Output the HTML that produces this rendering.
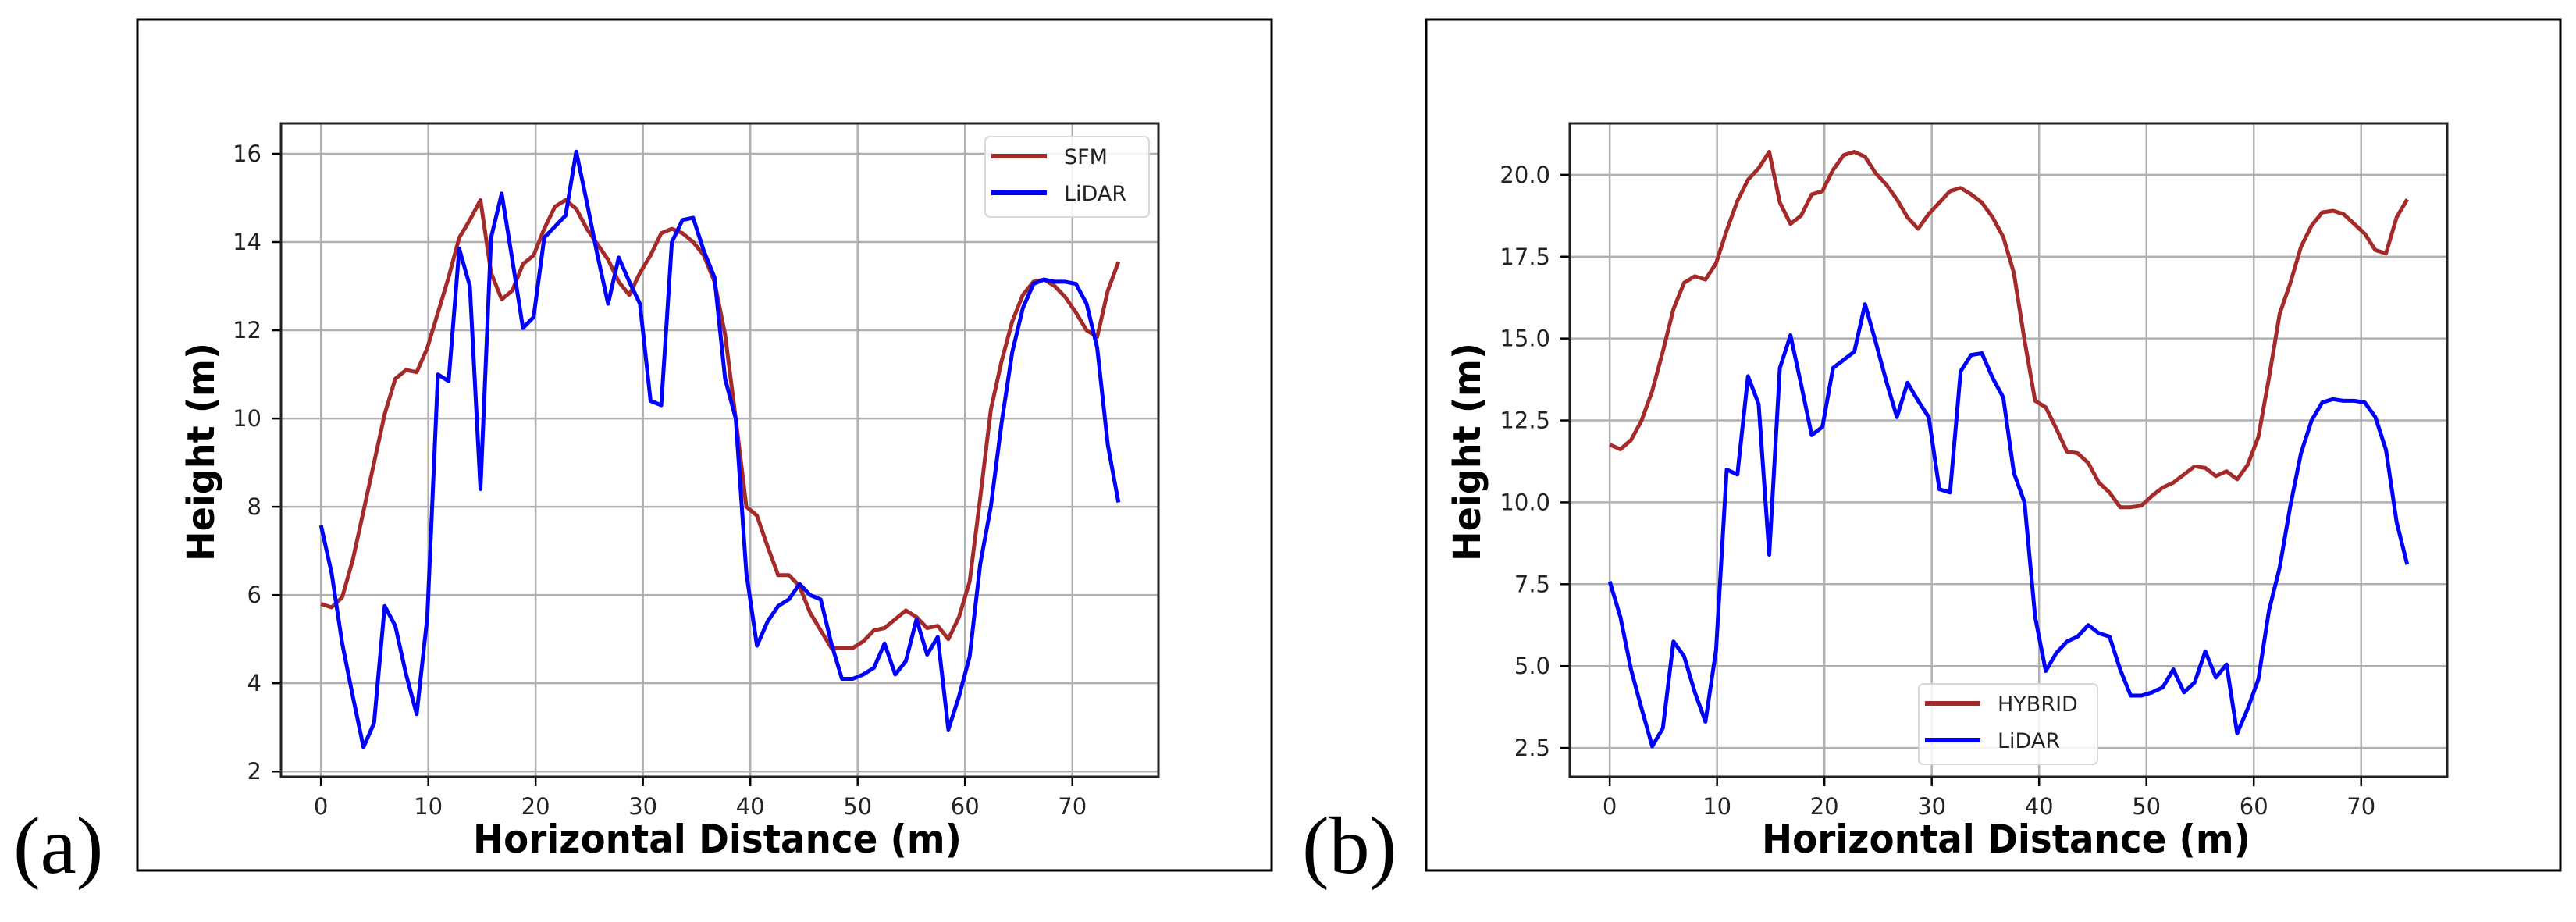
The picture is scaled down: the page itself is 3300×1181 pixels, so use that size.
<!DOCTYPE html>
<html><head><meta charset="utf-8"><style>
html,body{margin:0;padding:0;background:#fff;}
svg{display:block;}
text{font-family:"DejaVu Sans","Liberation Sans",sans-serif;}
</style></head><body>
<svg id="fig" width="3300" height="1181" viewBox="0 0 3300 1181" xmlns="http://www.w3.org/2000/svg">
<rect x="0" y="0" width="3300" height="1181" fill="#fff"/>
</svg>
<script>
const distance = [0,0.99,1.98,2.97,3.96,4.95,5.94,6.93,7.93,8.92,9.91,10.9,11.89,12.88,13.87,14.86,15.85,16.84,17.83,18.82,19.81,20.8,21.8,22.79,23.78,24.77,25.76,26.75,27.74,28.73,29.72,30.71,31.7,32.69,33.68,34.67,35.67,36.66,37.65,38.64,39.63,40.62,41.61,42.6,43.59,44.58,45.57,46.56,47.55,48.54,49.54,50.53,51.52,52.51,53.5,54.49,55.48,56.47,57.46,58.45,59.44,60.43,61.42,62.41,63.41,64.4,65.39,66.38,67.37,68.36,69.35,70.34,71.33,72.32,73.31,74.3];
const lidar = [7.58,6.5,4.9,3.7,2.55,3.1,5.75,5.3,4.2,3.3,5.5,11.0,10.85,13.85,13.0,8.4,14.1,15.1,13.6,12.05,12.3,14.1,14.35,14.6,16.05,14.9,13.7,12.6,13.65,13.1,12.6,10.4,10.3,14.0,14.5,14.55,13.8,13.2,10.9,10.0,6.5,4.85,5.4,5.75,5.9,6.25,6.0,5.9,4.9,4.1,4.1,4.2,4.35,4.9,4.2,4.5,5.45,4.65,5.05,2.95,3.7,4.6,6.7,8.0,9.9,11.5,12.5,13.05,13.15,13.1,13.1,13.05,12.6,11.6,9.4,8.1];
const sfm = [5.8,5.72,5.95,6.8,7.9,9.0,10.1,10.9,11.1,11.05,11.6,12.4,13.2,14.1,14.5,14.95,13.3,12.7,12.9,13.5,13.7,14.3,14.8,14.95,14.75,14.3,13.95,13.6,13.1,12.8,13.3,13.7,14.2,14.3,14.2,14.0,13.7,13.1,11.9,10.0,8.0,7.8,7.1,6.45,6.45,6.2,5.6,5.2,4.8,4.8,4.8,4.95,5.2,5.25,5.45,5.65,5.5,5.25,5.3,5.0,5.5,6.3,8.2,10.2,11.3,12.2,12.8,13.1,13.15,13.0,12.75,12.4,12.0,11.85,12.9,13.55];
const hybrid = [11.76,11.62,11.9,12.5,13.4,14.6,15.9,16.7,16.9,16.8,17.3,18.3,19.2,19.85,20.2,20.7,19.15,18.5,18.75,19.4,19.5,20.15,20.6,20.7,20.55,20.05,19.7,19.25,18.7,18.35,18.8,19.15,19.5,19.6,19.4,19.15,18.7,18.1,17.0,14.95,13.1,12.9,12.25,11.55,11.5,11.2,10.6,10.3,9.85,9.85,9.9,10.2,10.45,10.6,10.85,11.1,11.05,10.8,10.95,10.7,11.15,12.0,13.8,15.75,16.7,17.8,18.45,18.85,18.9,18.8,18.5,18.2,17.7,17.6,18.7,19.25];
const xTicks = [0,10,20,30,40,50,60,70];
const yTicksA = [2,4,6,8,10,12,14,16];
const yTicksB = [2.5,5.0,7.5,10.0,12.5,15.0,17.5,20.0];
const yLabelsB = ["2.5","5.0","7.5","10.0","12.5","15.0","17.5","20.0"];

const NS = "http://www.w3.org/2000/svg";
const svg = document.getElementById('fig');
function mk(tag, attrs, parent){
  const e = document.createElementNS(NS, tag);
  for (const k in attrs) e.setAttribute(k, attrs[k]);
  (parent||svg).appendChild(e);
  return e;
}

function panel(off, letter, yMin, yMax, yTicks, yLabels, series, legend){
  const g = mk('g', {});
  
  
  const L = 360+off, R = 1484+off, T = 158, B = 995;
  const xMin = -3.72, xMax = 78.02;
  const sx = v => L + (v - xMin) / (xMax - xMin) * (R - L);
  const sy = v => B - (v - yMin) / (yMax - yMin) * (B - T);

  const frame = mk('rect', {x:176+off, y:25, width:1453, height:1090, fill:'none', stroke:'#000', 'stroke-width':3}, g);
  
  

  const lab = mk('text', {x:17+off, y:1118, 'font-size':104, fill:'#000', style:'font-family:"Liberation Serif",serif'}, g);
  lab.textContent = '(' + letter + ')';
  
  

  // grid
  xTicks.forEach(t => {
    const x = sx(t);
    const gl = mk('line', {x1:x, x2:x, y1:T, y2:B, stroke:'#b0b0b0', 'stroke-width':2.5}, g);
    
    
    const tk = mk('line', {x1:x, x2:x, y1:B, y2:B+12, stroke:'#000', 'stroke-width':2.5}, g);
    
    
    const tl = mk('text', {x:x, y:1043, 'font-size':29, 'text-anchor':'middle', fill:'#222'}, g);
    tl.textContent = String(t);
    
    
  });
  yTicks.forEach((t,i) => {
    const y = sy(t);
    const gl = mk('line', {x1:L, x2:R, y1:y, y2:y, stroke:'#b0b0b0', 'stroke-width':2.5}, g);
    
    
    const tk = mk('line', {x1:L-12, x2:L, y1:y, y2:y, stroke:'#000', 'stroke-width':2.5}, g);
    
    
    const tl = mk('text', {x:L-25, y:y+10, 'font-size':29, 'text-anchor':'end', fill:'#222'}, g);
    tl.textContent = yLabels[i];
    
    
  });

  series.forEach(s => {
    const pts = distance.map((d,i) => sx(d).toFixed(1) + ',' + sy(s.vals[i]).toFixed(1)).join(' ');
    const pl = mk('polyline', {points:pts, fill:'none', stroke:s.color, 'stroke-width':5, 'stroke-linejoin':'round'}, g);
    
    
  });

  const ax = mk('rect', {x:L, y:T, width:R-L, height:B-T, fill:'none', stroke:'#222', 'stroke-width':3}, g);
  
  

  const xt = mk('text', {x:919+off, y:1092, 'font-size':50, 'font-weight':'bold', 'text-anchor':'middle', textLength:626, lengthAdjust:'spacingAndGlyphs', fill:'#000'}, g);
  xt.textContent = 'Horizontal Distance (m)';
  
  
  const yx = (letter === 'a' ? 274 : 245) + off;
  const yt = mk('text', {x:yx, y:579, 'font-size':48, 'font-weight':'bold', 'text-anchor':'middle', textLength:280, lengthAdjust:'spacingAndGlyphs', transform:'rotate(-90 '+yx+' 579)', fill:'#000'}, g);
  yt.textContent = 'Height (m)';
  
  

  const lg = mk('g', {}, g);
  
  
  mk('rect', {x:legend.x, y:legend.y, width:legend.w, height:103, rx:6, fill:'#fff', 'fill-opacity':0.85, stroke:'#d8d8d8', 'stroke-width':2}, lg);
  series.forEach((s,i) => {
    const yy = legend.y + 25 + i*47;
    const ll = mk('line', {x1:legend.x+8, x2:legend.x+79, y1:yy, y2:yy, stroke:s.color, 'stroke-width':6}, lg);
    
    
    const lt = mk('text', {x:legend.x+101, y:yy+10, 'font-size':27, fill:'#222'}, lg);
    lt.textContent = s.label;
    
    
  });
}

panel(0, 'a', 1.88, 16.69, yTicksA, yTicksA.map(String),
  [{name:'sfm', label:'SFM', color:'#a52a2a', vals:sfm},{name:'lidar', label:'LiDAR', color:'#0000ff', vals:lidar}],
  {x:1262, y:175, w:210});
panel(1651, 'b', 1.62, 21.57, yTicksB, yLabelsB,
  [{name:'hybrid', label:'HYBRID', color:'#a52a2a', vals:hybrid},{name:'lidar', label:'LiDAR', color:'#0000ff', vals:lidar}],
  {x:2458, y:876, w:229});
</script>
</body></html>
